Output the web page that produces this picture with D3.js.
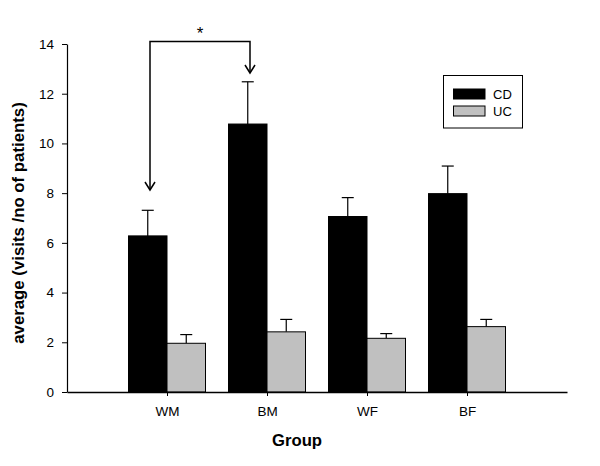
<!DOCTYPE html>
<html><head><meta charset="utf-8">
<script src="https://cdn.jsdelivr.net/npm/d3@7"></script>
<style>body{margin:0;background:#fff}svg{display:block}text{font-family:Arial,"Liberation Sans",sans-serif}</style>
</head><body>
<svg id="c" width="600" height="466"></svg>
<script>
const groups = ["WM","BM","WF","BF"];
const seriesNames = ["CD","UC"];
const cdValues = [6.28, 10.78, 7.06, 7.98];
const cdErrors = [1.03, 1.70, 0.76, 1.11];
const ucValues = [1.96, 2.42, 2.16, 2.63];
const ucErrors = [0.35, 0.50, 0.19, 0.29];
const yTicks = [0,2,4,6,8,10,12,14];
const colors = ["#000000","#c0c0c0"];

const svg = d3.select("#c");
const x = d3.scaleLinear().domain([0,5]).range([67,567]);
const y = d3.scaleLinear().domain([0,14]).range([392,44]);
const bw = 38.5;

const series = [
  {name:"CD", values:cdValues, errors:cdErrors, color:colors[0], off:-bw},
  {name:"UC", values:ucValues, errors:ucErrors, color:colors[1], off:0}
];

series.forEach(s=>{
  const g = svg.append("g");
  groups.forEach((grp,i)=>{
    const cx = x(i+1)+s.off+bw/2;
    g.append("line").attr("x1",cx).attr("x2",cx)
      .attr("y1",y(s.values[i])).attr("y2",y(s.values[i]+s.errors[i]))
      .attr("stroke","#000").attr("stroke-width",1.2);
    g.append("line").attr("x1",cx-6).attr("x2",cx+6)
      .attr("y1",y(s.values[i]+s.errors[i])).attr("y2",y(s.values[i]+s.errors[i]))
      .attr("stroke","#000").attr("stroke-width",1.2);
  });
  g.selectAll("rect").data(s.values).join("rect")
    .attr("x",(d,i)=>x(i+1)+s.off)
    .attr("y",d=>y(d))
    .attr("width",bw)
    .attr("height",d=>y(0)-y(d))
    .attr("fill",s.color)
    .attr("stroke","#000").attr("stroke-width",1);
});

// y axis
const ya = svg.append("g").attr("transform","translate(67,0)")
  .call(d3.axisLeft(y).tickValues(yTicks).tickSize(5).tickSizeOuter(0).tickFormat(d3.format("d")));
ya.select(".domain").attr("stroke","#000").attr("stroke-width",1.2);
ya.selectAll(".tick line").attr("stroke","#000");
ya.selectAll(".tick text").attr("font-size",13.5).attr("font-family","Arial").attr("fill","#000").attr("x",-13);

// x axis
const xa = svg.append("g").attr("transform","translate(0,392)")
  .call(d3.axisBottom(x).tickValues([1,2,3,4]).tickSize(4).tickSizeOuter(0).tickFormat(d=>groups[d-1]));
xa.select(".domain").attr("stroke","#000").attr("stroke-width",1.5);
xa.selectAll(".tick line").attr("stroke","#000");
xa.selectAll(".tick text").attr("font-size",13.5).attr("font-family","Arial").attr("fill","#000")
  .attr("y",24).attr("dy",0);

// axis titles
svg.append("text").attr("x",297).attr("y",446).attr("text-anchor","middle")
  .attr("font-size",16.7).attr("font-weight","bold").text("Group");
svg.append("text").attr("transform","translate(24,223) rotate(-90)").attr("text-anchor","middle")
  .attr("font-size",16.8).attr("font-weight","bold").text("average (visits /no of patients)");

// significance bracket
const lx = x(1)-17, rx = x(2)-17, topY = 41.5;
const leftTip = 190, rightTip = 73;
svg.append("path")
  .attr("d",`M${lx},${leftTip}V${topY}H${rx}V${rightTip}`)
  .attr("fill","none").attr("stroke","#000").attr("stroke-width",1.5);
[[lx,leftTip],[rx,rightTip]].forEach(([ax,ay])=>{
  svg.append("path").attr("d",`M${ax-5},${ay-8}L${ax},${ay}L${ax+5},${ay-8}`)
    .attr("fill","none").attr("stroke","#000").attr("stroke-width",1.5);
});
svg.append("text").attr("x",(lx+rx)/2).attr("y",39).attr("text-anchor","middle")
  .attr("font-size",17).text("*");

// legend
const lg = svg.append("g");
lg.append("rect").attr("x",443.5).attr("y",75.5).attr("width",79).attr("height",52.5)
  .attr("fill","#fff").attr("stroke","#000").attr("stroke-width",1);
seriesNames.forEach((n,i)=>{
  lg.append("rect").attr("x",453.5).attr("y",89+i*17).attr("width",31.5).attr("height",10)
    .attr("fill",colors[i]).attr("stroke","#000").attr("stroke-width",1);
  lg.append("text").attr("x",493).attr("y",99+i*17).attr("font-size",13).text(n);
});
</script>
</body></html>
